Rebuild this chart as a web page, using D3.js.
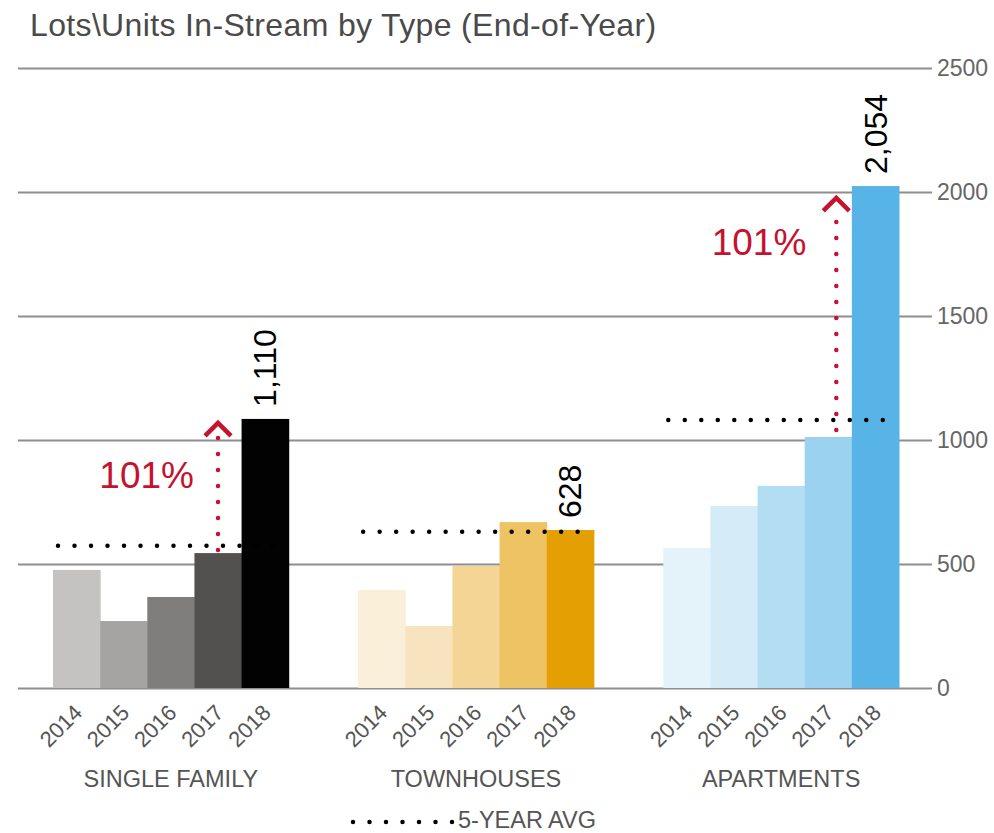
<!DOCTYPE html>
<html>
<head>
<meta charset="utf-8">
<script src="https://cdn.jsdelivr.net/npm/d3@7"></script>
<style>
    body { margin: 0; background: #fff; }
    svg { display: block; font-family: "Helvetica Neue", Helvetica, Arial, "Liberation Sans", sans-serif; }
</style>
</head>
<body>
<div id="chart"></div>
<script>
// Lots\Units in-stream, grouped bars by housing type

const categories = ['SINGLE FAMILY', 'TOWNHOUSES', 'APARTMENTS'];
const years = ['2014', '2015', '2016', '2017', '2018'];

const singleFamily = [476, 270, 367, 544, 1085];
const townhouses = [395, 250, 492, 669, 637];
const apartments = [565, 734, 815, 1012, 2024];

// label printed above the 2018 bar of each group
const latestLabels = ['1,110', '628', '2,054'];

const fiveYearAvg = [574, 630, 1081];

const yTicks = [0, 500, 1000, 1500, 2000, 2500];

// red growth arrows (from 2017 to 2018)
const growthArrows = [
    { category: 'SINGLE FAMILY', from: 556, to: 1073, label: '101%', labelAt: 806 },
    { category: 'APARTMENTS', from: 1040, to: 1980, label: '101%', labelAt: 1746 }
];

const palettes = {
    'SINGLE FAMILY': ['#c4c3c1', '#a5a4a3', '#7f7e7d', '#53514f', '#020202'],
    'TOWNHOUSES': ['#faefd8', '#f7e4bf', '#f4d596', '#eec363', '#e4a002'],
    'APARTMENTS': ['#e4f3fa', '#d5ebf7', '#b3ddf3', '#9bd2ef', '#58b3e6']
};

const series = [singleFamily, townhouses, apartments];

const width = 994, height = 833;
const red = '#c5122f';

const svg = d3.select('#chart')
    .append('svg')
    .attr('width', width)
    .attr('height', height);

// scales
const x0 = d3.scaleBand()
    .domain(categories)
    .range([53, 899])
    .paddingInner(0.2275)
    .paddingOuter(0);

const x1 = d3.scaleBand()
    .domain(years)
    .range([0, x0.bandwidth()])
    .padding(0);

const y = d3.scaleLinear()
    .domain([0, 2500])
    .range([688, 68]);

// title
svg.append('text')
    .attr('x', 30)
    .attr('y', 36)
    .style('font-size', '32px')
    .style('letter-spacing', '0.35px')
    .style('fill', '#4a4a4a')
    .text('Lots\\Units In-Stream by Type (End-of-Year)');

// right axis + gridlines
const axis = svg.append('g')
    .attr('transform', 'translate(932,0)')
    .call(d3.axisRight(y)
        .tickValues(yTicks)
        .tickSize(-(932 - 18))
        .tickPadding(5)
        .tickFormat(d3.format('d')));

axis.select('.domain').remove();
axis.selectAll('.tick line')
    .attr('stroke', '#8e8e8e')
    .attr('stroke-width', 2);
axis.selectAll('.tick text')
    .style('font-size', '23px')
    .style('fill', '#666')
    .style('font-family', '"Helvetica Neue", Helvetica, Arial, "Liberation Sans", sans-serif');

// bar groups
const groups = svg.selectAll('.group')
    .data(categories.map((c, i) => ({ category: c, values: series[i], index: i })))
    .join('g')
    .attr('class', 'group')
    .attr('transform', d => `translate(${x0(d.category)},0)`);

groups.selectAll('rect')
    .data(d => d.values.map((v, j) => ({ category: d.category, year: years[j], value: v, j })))
    .join('rect')
    .attr('x', d => x1(d.year))
    .attr('y', d => y(d.value))
    .attr('width', x1.bandwidth() + 0.5)
    .attr('height', d => y(0) - y(d.value))
    .attr('fill', d => palettes[d.category][d.j]);

// 2018 value labels, rotated
groups.append('text')
    .attr('transform', d => {
        const cx = x1('2018') + x1.bandwidth() / 2;
        const cy = y(d.values[4]) - 12;
        return `translate(${cx},${cy}) rotate(-90)`;
    })
    .attr('dy', '0.35em')
    .style('font-size', '32px')
    .style('fill', '#000')
    .text(d => latestLabels[d.index]);

// five-year average dotted lines
groups.append('line')
    .attr('x1', 5)
    .attr('x2', x0.bandwidth() - 2)
    .attr('y1', d => y(fiveYearAvg[d.index]))
    .attr('y2', d => y(fiveYearAvg[d.index]))
    .attr('stroke', '#000')
    .attr('stroke-width', 4.5)
    .attr('stroke-linecap', 'round')
    .attr('stroke-dasharray', '0 16.5');

// year tick labels
groups.selectAll('.year')
    .data(years)
    .join('text')
    .attr('class', 'year')
    .attr('transform', d => `translate(${x1(d) + x1.bandwidth() / 2 + 7},714) rotate(-45)`)
    .attr('text-anchor', 'end')
    .style('font-size', '22px')
    .style('fill', '#555')
    .text(d => d);

// category labels
groups.append('text')
    .attr('x', x0.bandwidth() / 2)
    .attr('y', 787)
    .attr('text-anchor', 'middle')
    .style('font-size', '23.5px')
    .style('fill', '#555')
    .text(d => d.category);

// growth arrows
const arrowNudge = { 'SINGLE FAMILY': 0, 'APARTMENTS': 8 };
const labelGap = { 'SINGLE FAMILY': 24, 'APARTMENTS': 30 };

const arrows = svg.selectAll('.arrow')
    .data(growthArrows)
    .join('g')
    .attr('class', 'arrow')
    .attr('transform', d => {
        const ax = x0(d.category) + x1('2017') + x1.bandwidth() / 2 + arrowNudge[d.category];
        return `translate(${ax},0)`;
    });

arrows.append('line')
    .attr('x1', 0).attr('x2', 0)
    .attr('y1', d => y(d.from))
    .attr('y2', d => y(d.to) + 10)
    .attr('stroke', red)
    .attr('stroke-width', 4.5)
    .attr('stroke-linecap', 'round')
    .attr('stroke-dasharray', '0 16');

arrows.append('path')
    .attr('d', d => {
        const ty = y(d.to);
        return `M-13,${ty + 14}L0,${ty + 1}L13,${ty + 14}`;
    })
    .attr('fill', 'none')
    .attr('stroke', red)
    .attr('stroke-width', 4.5);

arrows.append('text')
    .attr('x', d => -labelGap[d.category])
    .attr('y', d => y(d.labelAt))
    .attr('text-anchor', 'end')
    .style('font-size', '37px')
    .style('fill', red)
    .text(d => d.label);

// legend
const legend = svg.append('g');

legend.append('line')
    .attr('x1', 353).attr('x2', 453)
    .attr('y1', 822).attr('y2', 822)
    .attr('stroke', '#000')
    .attr('stroke-width', 4.5)
    .attr('stroke-linecap', 'round')
    .attr('stroke-dasharray', '0 16.5');

legend.append('text')
    .attr('x', 458)
    .attr('y', 828)
    .style('font-size', '23.5px')
    .style('fill', '#555')
    .text('5-YEAR AVG');
</script>
</body>
</html>
